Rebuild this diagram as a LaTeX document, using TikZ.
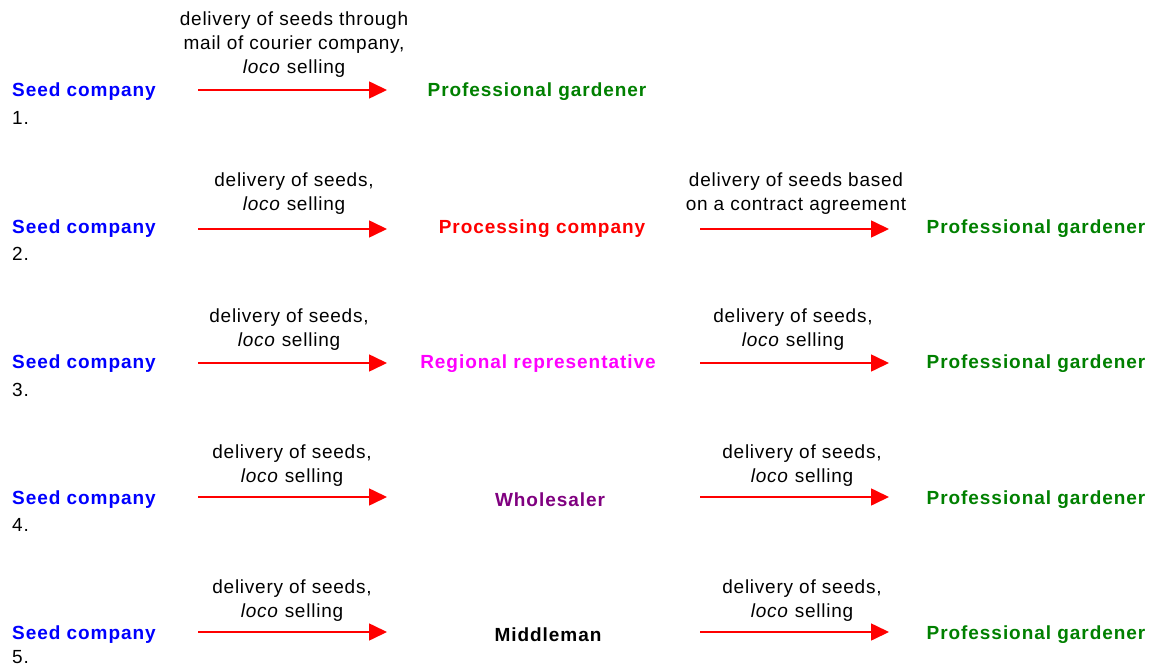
\documentclass[tikz,border=0pt]{standalone}
\usepackage{fontspec}
\setmainfont{Liberation Sans}
\usetikzlibrary{arrows.meta}
\definecolor{seedblue}{RGB}{0,0,255}
\definecolor{gardgreen}{RGB}{0,128,0}
\definecolor{procred}{RGB}{255,0,0}
\definecolor{regmag}{RGB}{255,0,255}
\definecolor{wholepurple}{RGB}{128,0,128}
\begin{document}
\begin{tikzpicture}[x=1pt,y=-1pt,
  actor/.style={inner sep=0pt,font=\fontsize{19}{22}\selectfont\bfseries\addfontfeature{LetterSpace=5}},
  seed/.style={actor,anchor=west,text=seedblue},
  gardener/.style={actor,text=gardgreen},
  num/.style={inner sep=0pt,anchor=west,font=\fontsize{19}{22}\selectfont\addfontfeature{LetterSpace=4}},
  lbl/.style={inner sep=0pt,align=center,anchor=south,
    font=\fontsize{19}{24}\selectfont\addfontfeature{LetterSpace=4}},
  flow/.style={draw=procred,line width=1.6pt,-{Triangle[length=18pt,width=17pt]}}
]
\useasboundingbox (0,0) rectangle (1153,668);
\fill[white] (0,0) rectangle (1153,668);

% row 1
\node[seed] (s1) at (12,92) {Seed company};
\node[num] (n1) at (12,118) {1.};
\node[gardener] (g1) at (537,92) {Professional gardener};
\coordinate (a1s) at (198,90);
\coordinate (a1e) at (387,90);
\draw[flow] (a1s) -- (a1e);
\node[lbl] (l1) at (294,78) {delivery of seeds through\\mail of courier company,\\\textit{loco} selling};

% row 2
\node[seed] (s2) at (12,229) {Seed company};
\node[num] (n2) at (12,254) {2.};
\node[actor,text=procred] (m2) at (542,229) {Processing company};
\node[gardener] (g2) at (1036,229) {Professional gardener};
\coordinate (a2s) at (198,229);
\coordinate (a2e) at (387,229);
\coordinate (b2s) at (700,229);
\coordinate (b2e) at (889,229);
\draw[flow] (a2s) -- (a2e);
\draw[flow] (b2s) -- (b2e);
\node[lbl] (l2) at (294,215) {delivery of seeds,\\\textit{loco} selling};
\node[lbl] (r2) at (796,215) {delivery of seeds based\\on a contract agreement};

% row 3
\node[seed] (s3) at (12,364) {Seed company};
\node[num] (n3) at (12,390) {3.};
\node[actor,text=regmag] (m3) at (538,364) {Regional representative};
\node[gardener] (g3) at (1036,364) {Professional gardener};
\coordinate (a3s) at (198,363);
\coordinate (a3e) at (387,363);
\coordinate (b3s) at (700,363);
\coordinate (b3e) at (889,363);
\draw[flow] (a3s) -- (a3e);
\draw[flow] (b3s) -- (b3e);
\node[lbl] (l3) at (289,351) {delivery of seeds,\\\textit{loco} selling};
\node[lbl] (r3) at (793,351) {delivery of seeds,\\\textit{loco} selling};

% row 4
\node[seed] (s4) at (12,500) {Seed company};
\node[num] (n4) at (12,525) {4.};
\node[actor,text=wholepurple] (m4) at (550,500) {Wholesaler};
\node[gardener] (g4) at (1036,500) {Professional gardener};
\coordinate (a4s) at (198,497);
\coordinate (a4e) at (387,497);
\coordinate (b4s) at (700,497);
\coordinate (b4e) at (889,497);
\draw[flow] (a4s) -- (a4e);
\draw[flow] (b4s) -- (b4e);
\node[lbl] (l4) at (292,487) {delivery of seeds,\\\textit{loco} selling};
\node[lbl] (r4) at (802,487) {delivery of seeds,\\\textit{loco} selling};

% row 5
\node[seed] (s5) at (12,635) {Seed company};
\node[num] (n5) at (12,657) {5.};
\node[actor,text=black] (m5) at (548,635) {Middleman};
\node[gardener] (g5) at (1036,635) {Professional gardener};
\coordinate (a5s) at (198,632);
\coordinate (a5e) at (387,632);
\coordinate (b5s) at (700,632);
\coordinate (b5e) at (889,632);
\draw[flow] (a5s) -- (a5e);
\draw[flow] (b5s) -- (b5e);
\node[lbl] (l5) at (292,622) {delivery of seeds,\\\textit{loco} selling};
\node[lbl] (r5) at (802,622) {delivery of seeds,\\\textit{loco} selling};
\end{tikzpicture}
\end{document}
